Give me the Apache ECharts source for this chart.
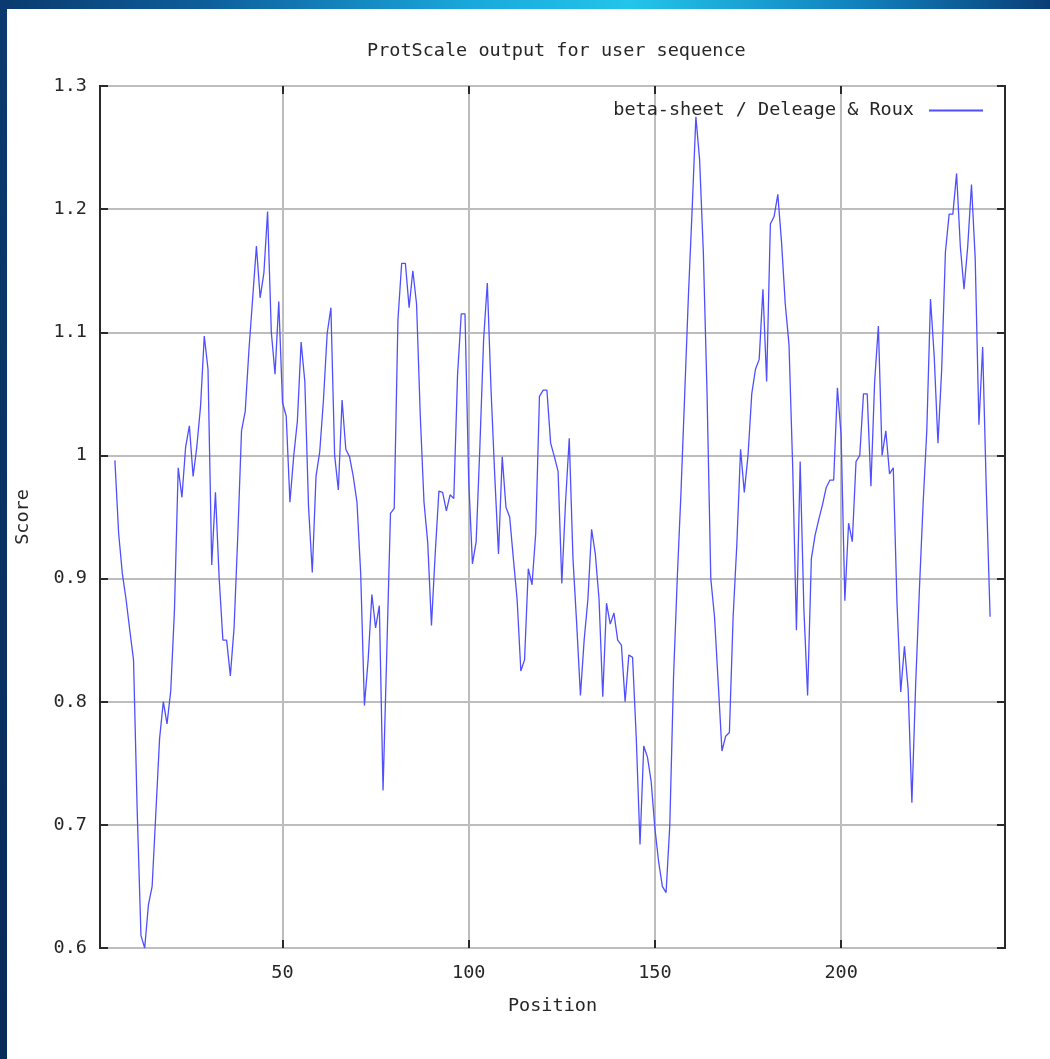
<!DOCTYPE html>
<html>
<head>
<meta charset="utf-8">
<script src="https://cdn.jsdelivr.net/npm/echarts@6/dist/echarts.min.js"></script>
<style>
  html, body { margin: 0; padding: 0; width: 1050px; height: 1059px; overflow: hidden; }
  body {
    background:
      linear-gradient(180deg, rgba(6,30,70,0) 0%, rgba(6,30,70,0.55) 100%),
      linear-gradient(90deg, #0a3a6e 0%, #0e5f9c 20%, #19a9dc 45%, #23c5ea 60%, #1180bd 82%, #0a3f76 100%);
  }
  #paper { position: absolute; left: 7px; top: 9px; right: 0; bottom: 0; background: #ffffff; }
  #chart { position: absolute; left: 0; top: 0; width: 1050px; height: 1059px; }
</style>
</head>
<body>
<div id="paper"></div>
<div id="chart"></div>
<script>
// ---- data ----
const chartTitle = 'ProtScale output for user sequence';
const seriesName = 'beta-sheet / Deleage & Roux';
const xAxisName = 'Position';
const yAxisName = 'Score';
const xTickValues = [50, 100, 150, 200];
const xRange = [1, 244];
const yRange = [0.6, 1.3];
const yStep = 0.1;
const firstPosition = 5;
const scores = [
  0.996, 0.937, 0.904, 0.883, 0.858, 0.834, 0.710, 0.610, 0.600, 0.635,   // 5-14
  0.650, 0.710, 0.770, 0.800, 0.782, 0.809, 0.875, 0.990, 0.966, 1.007,   // 15-24
  1.024, 0.983, 1.007, 1.040, 1.097, 1.070, 0.911, 0.970, 0.900, 0.850,   // 25-34
  0.850, 0.821, 0.860, 0.935, 1.020, 1.036, 1.086, 1.128, 1.170, 1.128,   // 35-44
  1.148, 1.198, 1.100, 1.066, 1.125, 1.043, 1.032, 0.962, 0.999, 1.028,   // 45-54
  1.092, 1.060, 0.958, 0.905, 0.983, 1.003, 1.045, 1.099, 1.120, 1.000,   // 55-64
  0.972, 1.045, 1.005, 0.999, 0.983, 0.962, 0.904, 0.797, 0.834, 0.887,   // 65-74
  0.860, 0.878, 0.728, 0.840, 0.953, 0.957, 1.110, 1.156, 1.156, 1.120,   // 75-84
  1.150, 1.123, 1.032, 0.962, 0.929, 0.862, 0.920, 0.971, 0.970, 0.955,   // 85-94
  0.968, 0.965, 1.065, 1.115, 1.115, 0.980, 0.912, 0.930, 1.007, 1.094,   // 95-104
  1.140, 1.053, 0.983, 0.920, 0.999, 0.958, 0.950, 0.916, 0.883, 0.825,   // 105-114
  0.834, 0.908, 0.895, 0.937, 1.048, 1.053, 1.053, 1.010, 0.999, 0.987,   // 115-124
  0.896, 0.962, 1.014, 0.916, 0.863, 0.805, 0.850, 0.883, 0.940, 0.920,   // 125-134
  0.883, 0.804, 0.880, 0.863, 0.872, 0.850, 0.846, 0.800, 0.838, 0.836,   // 135-144
  0.770, 0.684, 0.764, 0.755, 0.735, 0.697, 0.670, 0.650, 0.645, 0.700,   // 145-154
  0.820, 0.900, 0.970, 1.050, 1.130, 1.200, 1.275, 1.240, 1.165, 1.050,   // 155-164
  0.900, 0.869, 0.815, 0.760, 0.772, 0.775, 0.869, 0.928, 1.005, 0.970,   // 165-174
  1.000, 1.050, 1.070, 1.078, 1.135, 1.060, 1.188, 1.194, 1.212, 1.173,   // 175-184
  1.123, 1.090, 0.990, 0.858, 0.995, 0.875, 0.805, 0.916, 0.935, 0.948,   // 185-194
  0.960, 0.974, 0.980, 0.980, 1.055, 1.016, 0.882, 0.945, 0.930, 0.995,   // 195-204
  1.000, 1.050, 1.050, 0.975, 1.060, 1.105, 1.000, 1.020, 0.985, 0.990,   // 205-214
  0.880, 0.808, 0.845, 0.810, 0.718, 0.813, 0.890, 0.960, 1.020, 1.127,   // 215-224
  1.080, 1.010, 1.070, 1.165, 1.196, 1.196, 1.229, 1.170, 1.135, 1.170,   // 225-234
  1.220, 1.160, 1.025, 1.088, 0.970, 0.869                                // 235-240
];

// ---- chart ----
const FONT = 'DejaVu Sans Mono';
const FS = 18.5;
const points = scores.map((v, i) => [firstPosition + i, v]);
const lineColor = '#4f4fff';
const gridColor = '#bdbdbd';
const frameColor = '#2a2a2a';
const textColor = '#262626';

const chart = echarts.init(document.getElementById('chart'), null, { renderer: 'canvas' });
chart.setOption({
  backgroundColor: 'transparent',
  animation: false,
  title: {
    text: chartTitle,
    left: 362,
    top: 37,
    textStyle: { fontFamily: FONT, fontSize: FS, fontWeight: 'normal', color: textColor }
  },
  legend: {
    data: [seriesName],
    right: 62,
    top: 96,
    align: 'right',
    icon: 'rect',
    itemWidth: 54,
    itemHeight: 2,
    textStyle: { fontFamily: FONT, fontSize: FS, color: textColor, padding: [0, 10, 0, 0] }
  },
  grid: {
    left: 100, top: 86, right: 45, bottom: 111,
    show: true, borderColor: frameColor, borderWidth: 2, backgroundColor: 'transparent'
  },
  xAxis: [{
    type: 'value',
    min: xRange[0], max: xRange[1],
    name: xAxisName, nameLocation: 'middle', nameGap: 49,
    nameTextStyle: { fontFamily: FONT, fontSize: FS, color: textColor },
    axisLine: { show: false },
    axisTick: { show: true, inside: true, length: 8, customValues: xTickValues, lineStyle: { color: frameColor, width: 2 } },
    axisLabel: { customValues: xTickValues, margin: 16, fontFamily: FONT, fontSize: FS, color: textColor },
    splitLine: { show: true, lineStyle: { color: gridColor, width: 2 } }
  }, {
    type: 'value', position: 'top',
    min: xRange[0], max: xRange[1],
    axisLine: { show: false },
    axisTick: { show: true, inside: true, length: 8, customValues: xTickValues, lineStyle: { color: frameColor, width: 2 } },
    axisLabel: { show: false },
    splitLine: { show: false }
  }],
  yAxis: [{
    type: 'value',
    min: yRange[0], max: yRange[1], interval: yStep,
    name: yAxisName, nameLocation: 'middle', nameGap: 67, nameRotate: 90,
    nameTextStyle: { fontFamily: FONT, fontSize: FS, color: textColor },
    axisLine: { show: false },
    axisTick: { show: true, inside: true, length: 8, lineStyle: { color: frameColor, width: 2 } },
    axisLabel: { margin: 13, fontFamily: FONT, fontSize: FS, color: textColor },
    splitLine: { show: true, lineStyle: { color: gridColor, width: 2 } }
  }, {
    type: 'value', position: 'right',
    min: yRange[0], max: yRange[1], interval: yStep,
    axisLine: { show: false },
    axisTick: { show: true, inside: true, length: 8, lineStyle: { color: frameColor, width: 2 } },
    axisLabel: { show: false },
    splitLine: { show: false }
  }],
  series: [{
    name: seriesName,
    type: 'line',
    data: points,
    showSymbol: false,
    symbol: 'none',
    lineStyle: { color: lineColor, width: 1.3 },
    itemStyle: { color: lineColor },
    xAxisIndex: 0, yAxisIndex: 0
  }]
});
</script>
</body>
</html>
